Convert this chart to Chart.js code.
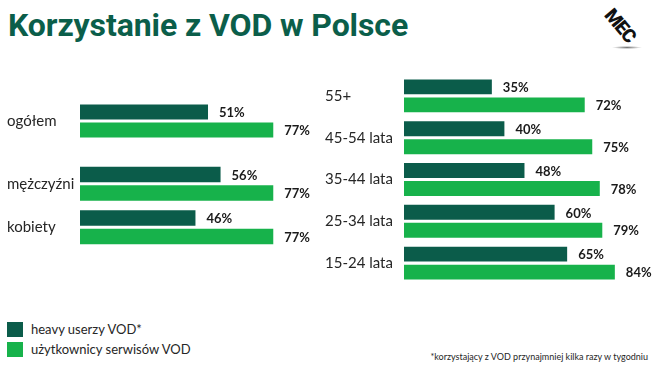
<!DOCTYPE html>
<html lang="pl">
<head>
<meta charset="utf-8">
<title>Korzystanie z VOD w Polsce</title>
<script src="https://cdn.jsdelivr.net/npm/chart.js@4"></script>
<style>
  html, body { margin: 0; padding: 0; background: #fff; }
  body { width: 655px; height: 367px; position: relative; overflow: hidden; font-family: Lato, 'Open Sans', sans-serif; color: #262626; }
  .title { position: absolute; left: 8px; top: 9px; font: 700 32px/32px Roboto, sans-serif; letter-spacing: -0.1px; color: #0b5e4a; white-space: nowrap; }
  .box { position: absolute; }
  .logo { position: absolute; left: 602px; top: 16px; font: 900 19px/19px Roboto, sans-serif; color: #111; transform: rotate(50deg); transform-origin: center; letter-spacing: -1px; }
  .shadow { position: absolute; left: 612px; top: 46px; width: 30px; height: 3px; background: radial-gradient(ellipse at center, #777 0%, rgba(255,255,255,0) 70%); }
  .legend { position: absolute; left: 7px; top: 319px; font-size: 13px; }
  .legend div { height: 20px; display: flex; align-items: center; }
  .legend span.sw { width: 16px; height: 15px; margin-right: 8px; display: inline-block; }
  .note { position: absolute; right: 7px; top: 351px; font-size: 9px; white-space: nowrap; }
</style>
</head>
<body>
<div class="title">Korzystanie z VOD w Polsce</div>
<div class="logo">MEC</div>
<div class="shadow"></div>

<div class="box" style="left:7px; top:100px; width:324px; height:42px;"><canvas id="totalChart"></canvas></div>
<div class="box" style="left:7px; top:162px; width:324px; height:87px;"><canvas id="genderChart"></canvas></div>
<div class="box" style="left:325px; top:75px; width:330px; height:209px;"><canvas id="ageChart"></canvas></div>

<div class="legend" id="legend"></div>
<div class="note">*korzystający z VOD przynajmniej kilka razy w tygodniu</div>

<script>
'use strict';

const seriesNames = ['heavy userzy VOD*', 'użytkownicy serwisów VOD'];
const seriesColors = ['#0b5c4a', '#17b24b'];

const totalLabels = ['ogółem'];
const totalHeavy = [51];
const totalUsers = [77];

const genderLabels = ['mężczyźni', 'kobiety'];
const genderHeavy = [56, 46];
const genderUsers = [77, 77];

const ageLabels = ['55+', '45-54 lata', '35-44 lata', '25-34 lata', '15-24 lata'];
const ageHeavy = [35, 40, 48, 60, 65];
const ageUsers = [72, 75, 78, 79, 84];

const axisMax = 100;

// draws the "51%" style labels next to each bar end
const valueLabels = {
    id: 'valueLabels',
    afterDatasetsDraw(chart) {
        const ctx = chart.ctx;
        ctx.save();
        ctx.font = 'bold 13px Lato, sans-serif';
        ctx.fillStyle = '#1a1a1a';
        ctx.textAlign = 'left';
        ctx.textBaseline = 'middle';
        chart.data.datasets.forEach((ds, i) => {
            chart.getDatasetMeta(i).data.forEach((bar, j) => {
                ctx.fillText(ds.data[j] + '%', bar.x + 11, bar.y + 1);
            });
        });
        ctx.restore();
    }
};

function renderBars(id, labels, heavy, users, axisWidth) {
    const ctx = document.getElementById(id);
    return new Chart(ctx, {
        type: 'bar',
        data: {
            labels: labels,
            datasets: [{
                label: seriesNames[0],
                data: heavy,
                backgroundColor: seriesColors[0],
                categoryPercentage: 0.86,
                barPercentage: 0.83,
            }, {
                label: seriesNames[1],
                data: users,
                backgroundColor: seriesColors[1],
                categoryPercentage: 0.86,
                barPercentage: 0.83,
            }]
        },
        options: {
            indexAxis: 'y',
            responsive: true,
            maintainAspectRatio: false,
            animation: false,
            layout: { padding: 0 },
            scales: {
                x: { display: false, min: 0, max: axisMax },
                y: {
                    grid: { display: false },
                    border: { display: false },
                    ticks: {
                        crossAlign: 'far',
                        padding: 0,
                        color: '#262626',
                        font: { family: 'Lato', size: 15 }
                    },
                    afterFit(scale) {
                        scale.width = axisWidth;
                        scale.paddingTop = 0;
                        scale.paddingBottom = 0;
                    }
                }
            },
            plugins: {
                legend: { display: false },
                tooltip: { enabled: false }
            }
        },
        plugins: [valueLabels]
    });
}

renderBars('totalChart', totalLabels, totalHeavy, totalUsers, 73);
renderBars('genderChart', genderLabels, genderHeavy, genderUsers, 73);
renderBars('ageChart', ageLabels, ageHeavy, ageUsers, 79);

const legend = document.getElementById('legend');
seriesNames.forEach((name, i) => {
    const row = document.createElement('div');
    const sw = document.createElement('span');
    sw.className = 'sw';
    sw.style.background = seriesColors[i];
    row.appendChild(sw);
    row.appendChild(document.createTextNode(name));
    legend.appendChild(row);
});
</script>
</body>
</html>
